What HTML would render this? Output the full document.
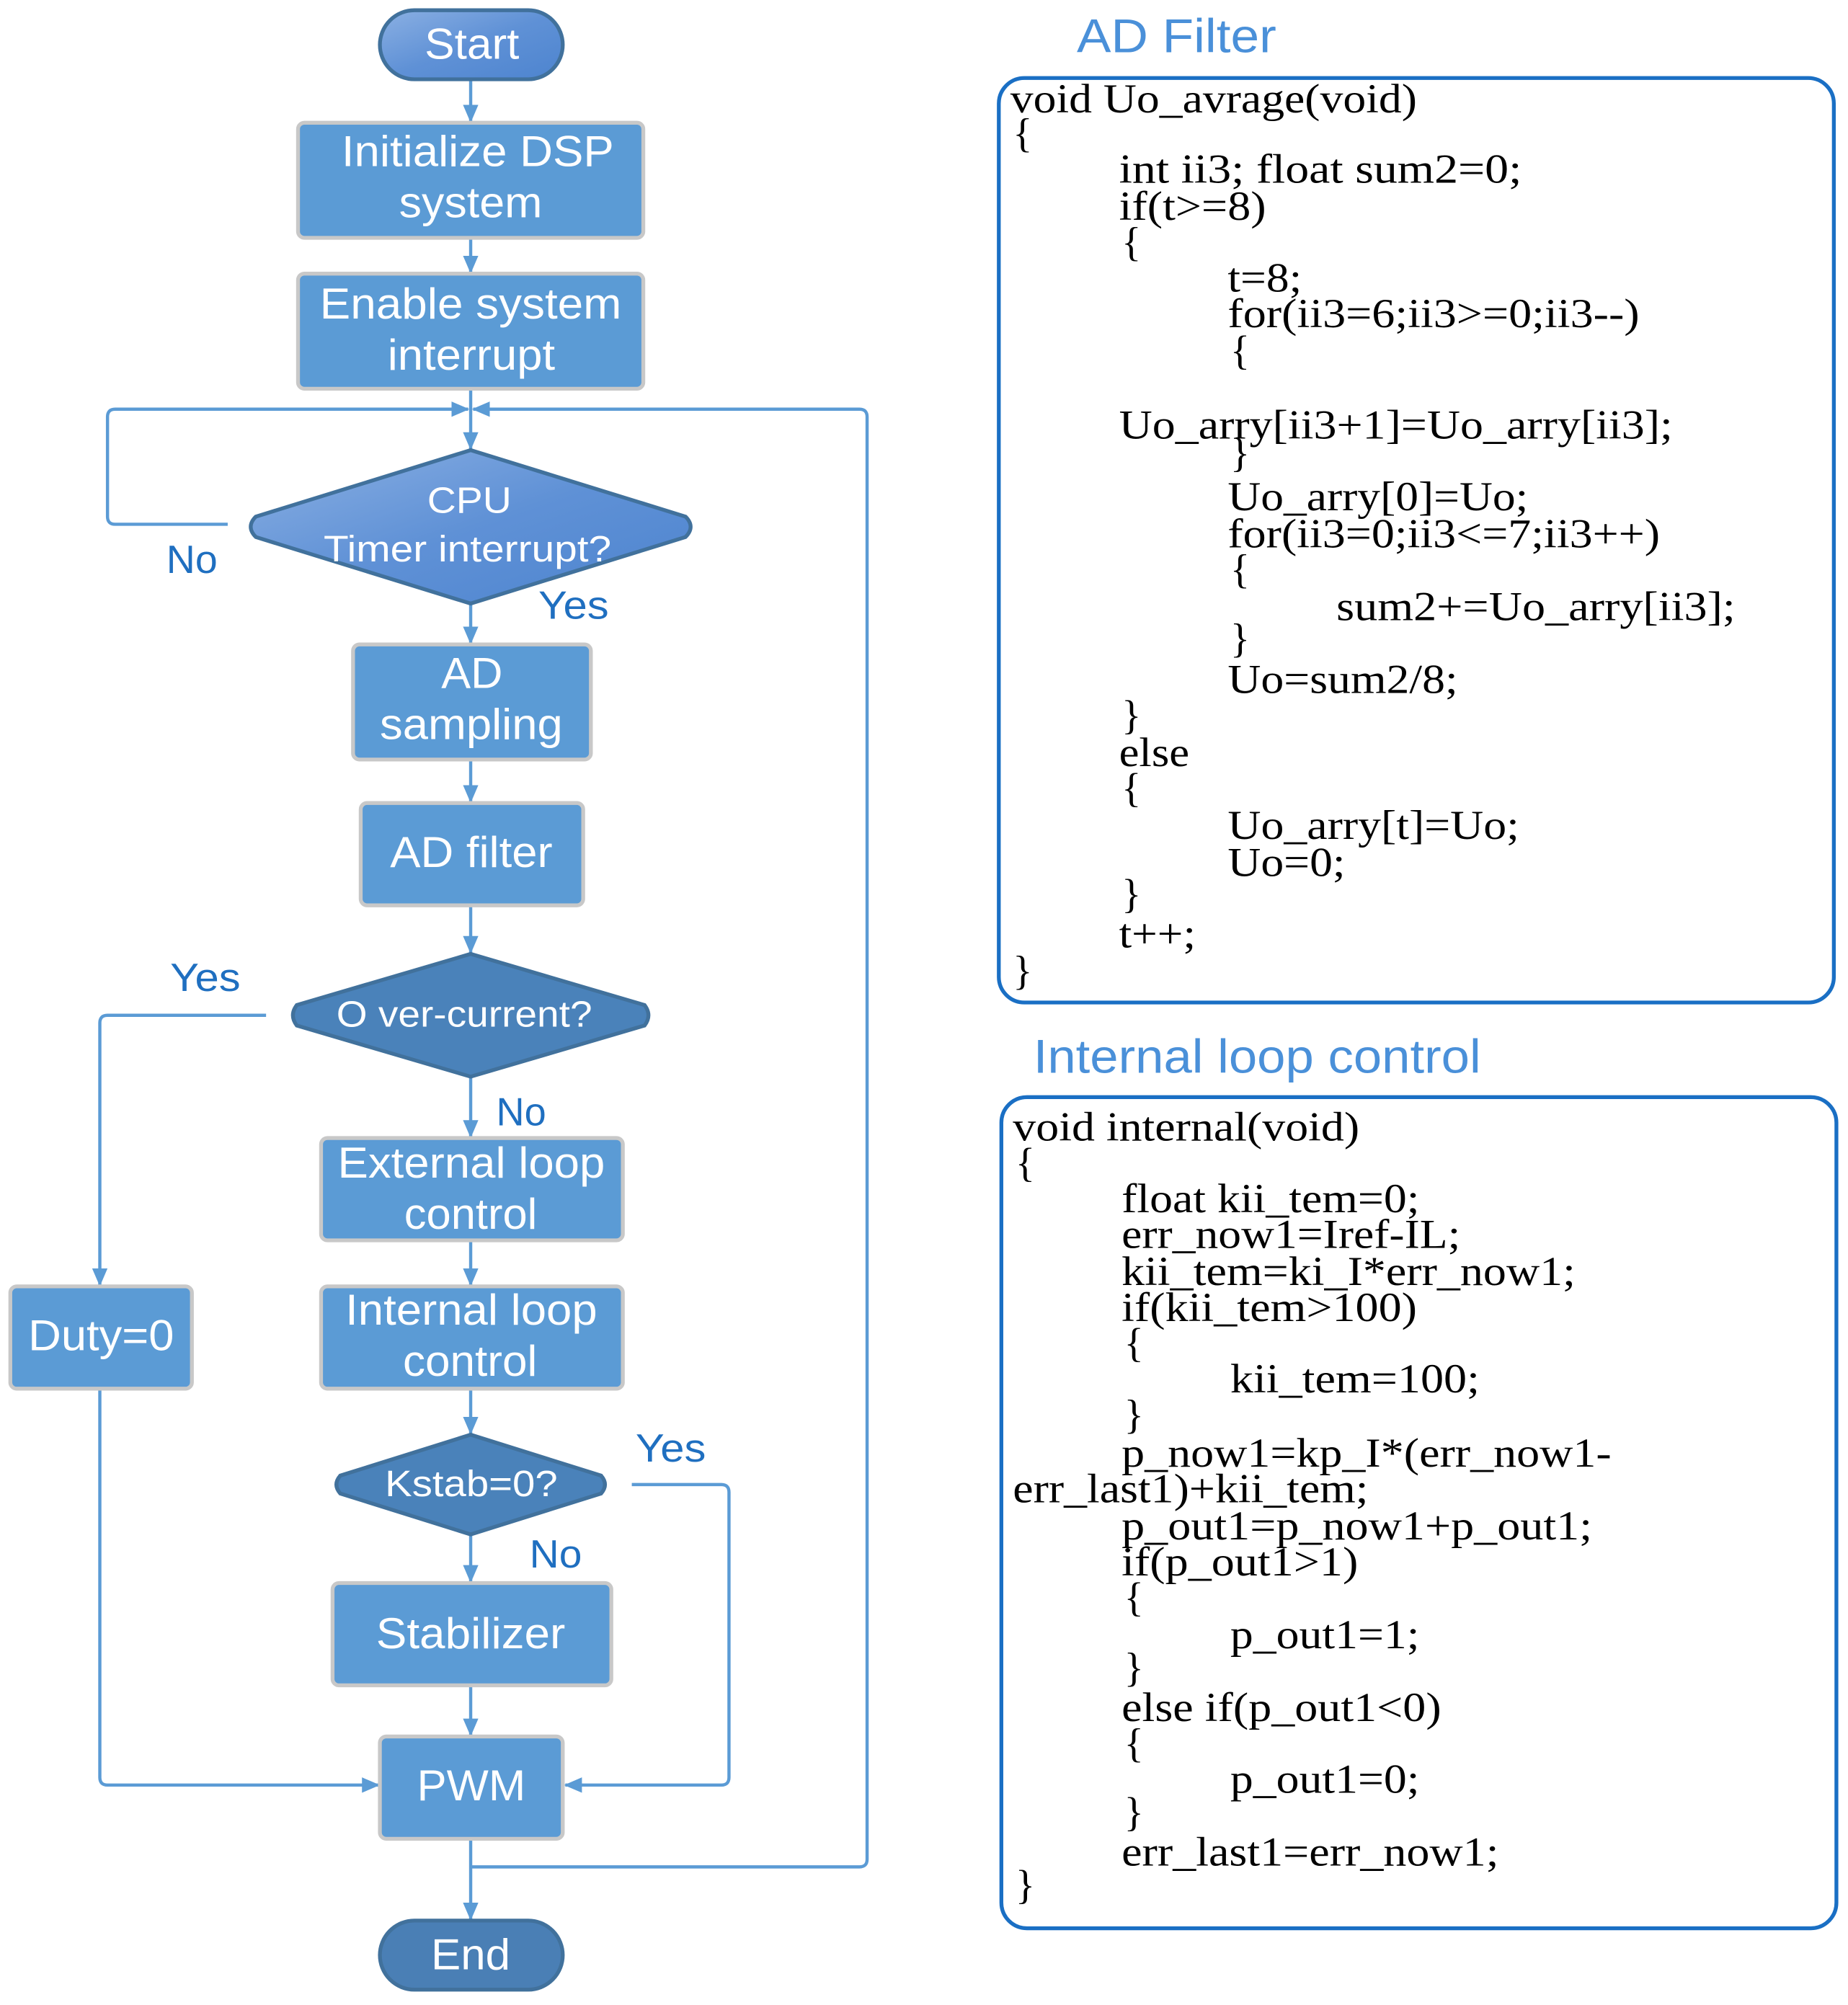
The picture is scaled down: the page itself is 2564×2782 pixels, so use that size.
<!DOCTYPE html>
<html><head><meta charset="utf-8"><style>
html,body{margin:0;padding:0;background:#fff;}
svg{display:block;}
.bt{font-family:"Liberation Sans",sans-serif;fill:#fff;}
.lb{font-family:"Liberation Sans",sans-serif;fill:#1f6fc0;font-size:31px;}
.cd{font-family:"Liberation Serif",serif;fill:#000;font-size:32px;}
.tt{font-family:"Liberation Sans",sans-serif;fill:#4a90d9;font-size:37px;}
.ln{fill:none;stroke:#5b9bd5;stroke-width:2.5;}
</style></head><body>
<svg width="2564" height="2782" viewBox="0 0 1445 1568" xmlns="http://www.w3.org/2000/svg">
<defs>
<linearGradient id="g1" x1="0" y1="0" x2="1" y2="1"><stop offset="0" stop-color="#8bb0e3"/><stop offset="0.5" stop-color="#5f91d6"/><stop offset="1" stop-color="#4d84cf"/></linearGradient>
<marker id="ar" markerWidth="14" markerHeight="12" refX="13" refY="6" orient="auto" markerUnits="userSpaceOnUse"><path d="M0,0 L14,6 L0,12 z" fill="#5b9bd5"/></marker>
</defs>

<g class="ln">
<line x1="368" y1="62" x2="368" y2="95" marker-end="url(#ar)"/>
<line x1="368" y1="186" x2="368" y2="213" marker-end="url(#ar)"/>
<line x1="368" y1="304" x2="368" y2="351" marker-end="url(#ar)"/>
<path d="M178,410 L90,410 Q84,410 84,404 L84,326 Q84,320 90,320 L366,320" marker-end="url(#ar)"/>
<path d="M368,1460 L672,1460 Q678,1460 678,1454 L678,326 Q678,320 672,320 L370,320" marker-end="url(#ar)"/>
<line x1="368" y1="472" x2="368" y2="503" marker-end="url(#ar)"/>
<line x1="368" y1="594" x2="368" y2="627" marker-end="url(#ar)"/>
<line x1="368" y1="708" x2="368" y2="745" marker-end="url(#ar)"/>
<path d="M208,794 L84,794 Q78,794 78,800 L78,1005" marker-end="url(#ar)"/>
<line x1="368" y1="842" x2="368" y2="889" marker-end="url(#ar)"/>
<line x1="368" y1="970" x2="368" y2="1005" marker-end="url(#ar)"/>
<line x1="368" y1="1086" x2="368" y2="1121" marker-end="url(#ar)"/>
<line x1="368" y1="1200" x2="368" y2="1237" marker-end="url(#ar)"/>
<line x1="368" y1="1318" x2="368" y2="1357" marker-end="url(#ar)"/>
<path d="M78,1086 L78,1390 Q78,1396 84,1396 L296,1396" marker-end="url(#ar)"/>
<path d="M494,1161 L564,1161 Q570,1161 570,1167 L570,1390 Q570,1396 564,1396 L442,1396" marker-end="url(#ar)"/>
<line x1="368" y1="1438" x2="368" y2="1501" marker-end="url(#ar)"/>
</g>

<g stroke="#c8c8c8" stroke-width="3" fill="#5b9bd5">
<rect x="233" y="96" width="270" height="90" rx="5"/>
<rect x="233" y="214" width="270" height="90" rx="5"/>
<rect x="276" y="504" width="186" height="90" rx="5"/>
<rect x="282" y="628" width="174" height="80" rx="5"/>
<rect x="251" y="890" width="236" height="80" rx="5"/>
<rect x="251" y="1006" width="236" height="80" rx="5"/>
<rect x="8" y="1006" width="142" height="80" rx="5"/>
<rect x="260" y="1238" width="218" height="80" rx="5"/>
<rect x="297" y="1358" width="143" height="80" rx="5"/>
</g>
<rect x="297" y="8" width="143" height="54" rx="27" fill="url(#g1)" stroke="#41719c" stroke-width="3"/>
<rect x="297" y="1502" width="143" height="54" rx="27" fill="#4a7fb5" stroke="#41719c" stroke-width="3"/>
<path d="M368,352 L536,404 Q544,412 536,420 L368,472 L200,420 Q192,412 200,404 Z" fill="url(#g1)" stroke="#41719c" stroke-width="3"/>
<path d="M368,746 L504,786 Q510,794 504,802 L368,842 L232,802 Q226,794 232,786 Z" fill="#4a82ba" stroke="#41719c" stroke-width="3"/>
<path d="M368,1122 L470,1154 Q476,1161 470,1168 L368,1200 L266,1168 Q260,1161 266,1154 Z" fill="#4a82ba" stroke="#41719c" stroke-width="3"/>

<g class="bt" font-size="34">
<text x="332" y="46" textLength="74" lengthAdjust="spacingAndGlyphs">Start</text>
<text x="267" y="130" textLength="213" lengthAdjust="spacingAndGlyphs">Initialize DSP</text>
<text x="312" y="170" textLength="112" lengthAdjust="spacingAndGlyphs">system</text>
<text x="250" y="249" textLength="236" lengthAdjust="spacingAndGlyphs">Enable system</text>
<text x="303" y="289" textLength="131" lengthAdjust="spacingAndGlyphs">interrupt</text>
<text x="345" y="538" textLength="48" lengthAdjust="spacingAndGlyphs">AD</text>
<text x="297" y="578" textLength="143" lengthAdjust="spacingAndGlyphs">sampling</text>
<text x="305" y="678" textLength="127" lengthAdjust="spacingAndGlyphs">AD filter</text>
<text x="264" y="921" textLength="209" lengthAdjust="spacingAndGlyphs">External loop</text>
<text x="316" y="961" textLength="104" lengthAdjust="spacingAndGlyphs">control</text>
<text x="270" y="1036" textLength="197" lengthAdjust="spacingAndGlyphs">Internal loop</text>
<text x="315" y="1076" textLength="105" lengthAdjust="spacingAndGlyphs">control</text>
<text x="22" y="1056" textLength="114" lengthAdjust="spacingAndGlyphs">Duty=0</text>
<text x="294" y="1289" textLength="148" lengthAdjust="spacingAndGlyphs">Stabilizer</text>
<text x="326" y="1408" textLength="85" lengthAdjust="spacingAndGlyphs">PWM</text>
<text x="337" y="1540" textLength="62" lengthAdjust="spacingAndGlyphs">End</text>
</g>
<g class="bt" font-size="29">
<text x="334" y="401" textLength="66" lengthAdjust="spacingAndGlyphs">CPU</text>
<text x="253" y="439" textLength="225" lengthAdjust="spacingAndGlyphs">Timer interrupt?</text>
<text x="263" y="803" textLength="200" lengthAdjust="spacingAndGlyphs">O ver-current?</text>
<text x="301" y="1170" textLength="135" lengthAdjust="spacingAndGlyphs">Kstab=0?</text>
</g>

<text class="lb" x="130" y="448" textLength="40" lengthAdjust="spacingAndGlyphs">No</text>
<text class="lb" x="421" y="484" textLength="55" lengthAdjust="spacingAndGlyphs">Yes</text>
<text class="lb" x="133" y="775" textLength="55" lengthAdjust="spacingAndGlyphs">Yes</text>
<text class="lb" x="388" y="880" textLength="39" lengthAdjust="spacingAndGlyphs">No</text>
<text class="lb" x="497" y="1143" textLength="55" lengthAdjust="spacingAndGlyphs">Yes</text>
<text class="lb" x="414" y="1226" textLength="41" lengthAdjust="spacingAndGlyphs">No</text>

<text class="tt" x="842" y="41" textLength="156" lengthAdjust="spacingAndGlyphs">AD Filter</text>
<rect x="781" y="61" width="653" height="723" rx="20" fill="none" stroke="#1a6fc4" stroke-width="3"/>
<g class="cd">
<text x="790" y="88" textLength="318" lengthAdjust="spacingAndGlyphs">void Uo_avrage(void)</text>
<text x="792" y="115">{</text>
<text x="875" y="143" textLength="315" lengthAdjust="spacingAndGlyphs">int ii3;  float sum2=0;</text>
<text x="875" y="172" textLength="115" lengthAdjust="spacingAndGlyphs">if(t&gt;=8)</text>
<text x="877" y="200">{</text>
<text x="960" y="228" textLength="58" lengthAdjust="spacingAndGlyphs">t=8;</text>
<text x="960" y="256" textLength="322" lengthAdjust="spacingAndGlyphs">for(ii3=6;ii3&gt;=0;ii3--)</text>
<text x="962" y="285">{</text>
<text x="875" y="343" textLength="433" lengthAdjust="spacingAndGlyphs">Uo_arry[ii3+1]=Uo_arry[ii3];</text>
<text x="962" y="365">}</text>
<text x="960" y="399" textLength="235" lengthAdjust="spacingAndGlyphs">Uo_arry[0]=Uo;</text>
<text x="960" y="428" textLength="338" lengthAdjust="spacingAndGlyphs">for(ii3=0;ii3&lt;=7;ii3++)</text>
<text x="962" y="456">{</text>
<text x="1045" y="485" textLength="312" lengthAdjust="spacingAndGlyphs">sum2+=Uo_arry[ii3];</text>
<text x="962" y="510">}</text>
<text x="960" y="542" textLength="180" lengthAdjust="spacingAndGlyphs">Uo=sum2/8;</text>
<text x="877" y="570">}</text>
<text x="875" y="599" textLength="55" lengthAdjust="spacingAndGlyphs">else</text>
<text x="877" y="627">{</text>
<text x="960" y="656" textLength="228" lengthAdjust="spacingAndGlyphs">Uo_arry[t]=Uo;</text>
<text x="960" y="685" textLength="92" lengthAdjust="spacingAndGlyphs">Uo=0;</text>
<text x="877" y="710">}</text>
<text x="875" y="741" textLength="60" lengthAdjust="spacingAndGlyphs">t++;</text>
<text x="792" y="770">}</text>
</g>

<text class="tt" x="808" y="839" textLength="350" lengthAdjust="spacingAndGlyphs">Internal loop control</text>
<rect x="783" y="858" width="653" height="650" rx="20" fill="none" stroke="#1a6fc4" stroke-width="3"/>
<g class="cd">
<text x="792" y="892" textLength="271" lengthAdjust="spacingAndGlyphs">void internal(void)</text>
<text x="794" y="920">{</text>
<text x="877" y="948" textLength="233" lengthAdjust="spacingAndGlyphs">float kii_tem=0;</text>
<text x="877" y="976" textLength="265" lengthAdjust="spacingAndGlyphs">err_now1=Iref-IL;</text>
<text x="877" y="1005" textLength="355" lengthAdjust="spacingAndGlyphs">kii_tem=ki_I*err_now1;</text>
<text x="877" y="1033" textLength="231" lengthAdjust="spacingAndGlyphs">if(kii_tem&gt;100)</text>
<text x="879" y="1061">{</text>
<text x="962" y="1089" textLength="195" lengthAdjust="spacingAndGlyphs">kii_tem=100;</text>
<text x="879" y="1117">}</text>
<text x="877" y="1147" textLength="383" lengthAdjust="spacingAndGlyphs">p_now1=kp_I*(err_now1-</text>
<text x="792" y="1175" textLength="278" lengthAdjust="spacingAndGlyphs">err_last1)+kii_tem;</text>
<text x="877" y="1204" textLength="368" lengthAdjust="spacingAndGlyphs">p_out1=p_now1+p_out1;</text>
<text x="877" y="1232" textLength="185" lengthAdjust="spacingAndGlyphs">if(p_out1&gt;1)</text>
<text x="879" y="1260">{</text>
<text x="962" y="1289" textLength="148" lengthAdjust="spacingAndGlyphs">p_out1=1;</text>
<text x="879" y="1315">}</text>
<text x="877" y="1346" textLength="250" lengthAdjust="spacingAndGlyphs">else if(p_out1&lt;0)</text>
<text x="879" y="1374">{</text>
<text x="962" y="1402" textLength="148" lengthAdjust="spacingAndGlyphs">p_out1=0;</text>
<text x="879" y="1428">}</text>
<text x="877" y="1459" textLength="295" lengthAdjust="spacingAndGlyphs">err_last1=err_now1;</text>
<text x="794" y="1485">}</text>
</g>
</svg>
</body></html>
